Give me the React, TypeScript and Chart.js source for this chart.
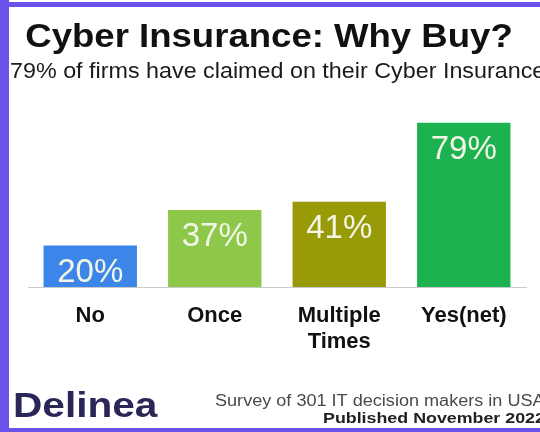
import React, { useEffect, useRef } from 'react';
import { Chart, registerables } from 'chart.js';

Chart.register(...registerables);

const categories: string[][] = [['No'], ['Once'], ['Multiple', 'Times'], ['Yes(net)']];
const values: number[] = [20, 37, 41, 79];
const valueLabels: string[] = ['20%', '37%', '41%', '79%'];
const barColors: string[] = ['#3b86e8', '#8dc84b', '#999a08', '#1bb24f'];
const titleText = 'Cyber Insurance: Why Buy?';
const subtitleText = '79% of firms have claimed on their Cyber Insurance';
const footerLines: string[] = ['Survey of 301 IT decision makers in USA', 'Published November 2022'];
const brandText = 'Delinea';
const yMax = 90;

const FONT = '"Liberation Sans", Arial, sans-serif';

function drawScaledText(
  ctx: CanvasRenderingContext2D,
  text: string,
  x: number,
  y: number,
  font: string,
  color: string,
  align: CanvasTextAlign,
  scaleX: number
) {
  ctx.save();
  ctx.font = font;
  ctx.fillStyle = color;
  ctx.textBaseline = 'alphabetic';
  ctx.textAlign = 'left';
  const w = ctx.measureText(text).width * scaleX;
  let left = x;
  if (align === 'center') left = x - w / 2;
  else if (align === 'right') left = x - w;
  ctx.translate(left, y);
  ctx.scale(scaleX, 1);
  ctx.fillText(text, 0, 0);
  ctx.restore();
}

const decorPlugin = {
  id: 'decor',
  beforeDraw(chart: any) {
    const ctx = chart.ctx as CanvasRenderingContext2D;
    ctx.save();
    ctx.fillStyle = '#ffffff';
    ctx.fillRect(0, 0, chart.width, chart.height);
    ctx.restore();
  },
  afterDraw(chart: any) {
    const ctx = chart.ctx as CanvasRenderingContext2D;
    // value labels inside bars
    const meta = chart.getDatasetMeta(0);
    meta.data.forEach((bar: any, i: number) => {
      ctx.save();
      ctx.font = `33px ${FONT}`;
      ctx.fillStyle = '#f3f6e6';
      ctx.textAlign = 'center';
      ctx.textBaseline = 'middle';
      ctx.fillText(valueLabels[i], bar.x, bar.y + 27);
      ctx.restore();
    });
    // title + subtitle
    drawScaledText(ctx, titleText, 269, 47, `bold 34px ${FONT}`, '#111111', 'center', 1.075);
    drawScaledText(ctx, subtitleText, 10, 78, `22px ${FONT}`, '#1a1a1a', 'left', 1.06);
    // footer
    drawScaledText(ctx, footerLines[0], 215, 406, `16px ${FONT}`, '#4a4a4a', 'left', 1.13);
    drawScaledText(ctx, footerLines[1], 323, 423, `bold 15.5px ${FONT}`, '#222222', 'left', 1.15);
    drawScaledText(ctx, brandText, 13, 417, `bold 35px ${FONT}`, '#2a2758', 'left', 1.16);
    // frame
    ctx.save();
    ctx.fillStyle = '#6b50ec';
    ctx.fillRect(0, 0, 9, chart.height);
    ctx.fillRect(0, 2, chart.width, 5);
    ctx.fillRect(0, 428, chart.width, 4);
    ctx.restore();
  },
};

export default function App() {
  const canvasRef = useRef<HTMLCanvasElement | null>(null);

  useEffect(() => {
    if (!canvasRef.current) return;
    const chart = new Chart(canvasRef.current, {
      type: 'bar',
      data: {
        labels: categories,
        datasets: [
          {
            data: values,
            backgroundColor: barColors,
            borderWidth: 0,
            categoryPercentage: 1,
            barPercentage: 0.75,
          },
        ],
      },
      options: {
        animation: false,
        responsive: false,
        devicePixelRatio: 1,
        layout: { padding: { left: 28, right: 14, top: 100, bottom: 0 } },
        plugins: {
          legend: { display: false },
          tooltip: { enabled: false },
          title: { display: false },
        },
        scales: {
          x: {
            grid: { display: false, drawTicks: false },
            border: { display: true, color: '#c9c9c9', width: 1 },
            ticks: {
              color: '#111111',
              font: { family: FONT, size: 22, weight: 'bold', lineHeight: 1.18 },
              padding: 16,
              maxRotation: 0,
              autoSkip: false,
            },
            afterFit: (scale: any) => {
              scale.height = 145;
            },
          },
          y: {
            display: false,
            min: 0,
            max: yMax,
          },
        },
      },
      plugins: [decorPlugin],
    } as any);
    return () => chart.destroy();
  }, []);

  return (
    <div style={{ position: 'absolute', left: 0, top: 0, width: 540, height: 432, overflow: 'hidden', background: '#fff' }}>
      <canvas ref={canvasRef} width={540} height={432} style={{ display: 'block', width: 540, height: 432 }} />
    </div>
  );
}
